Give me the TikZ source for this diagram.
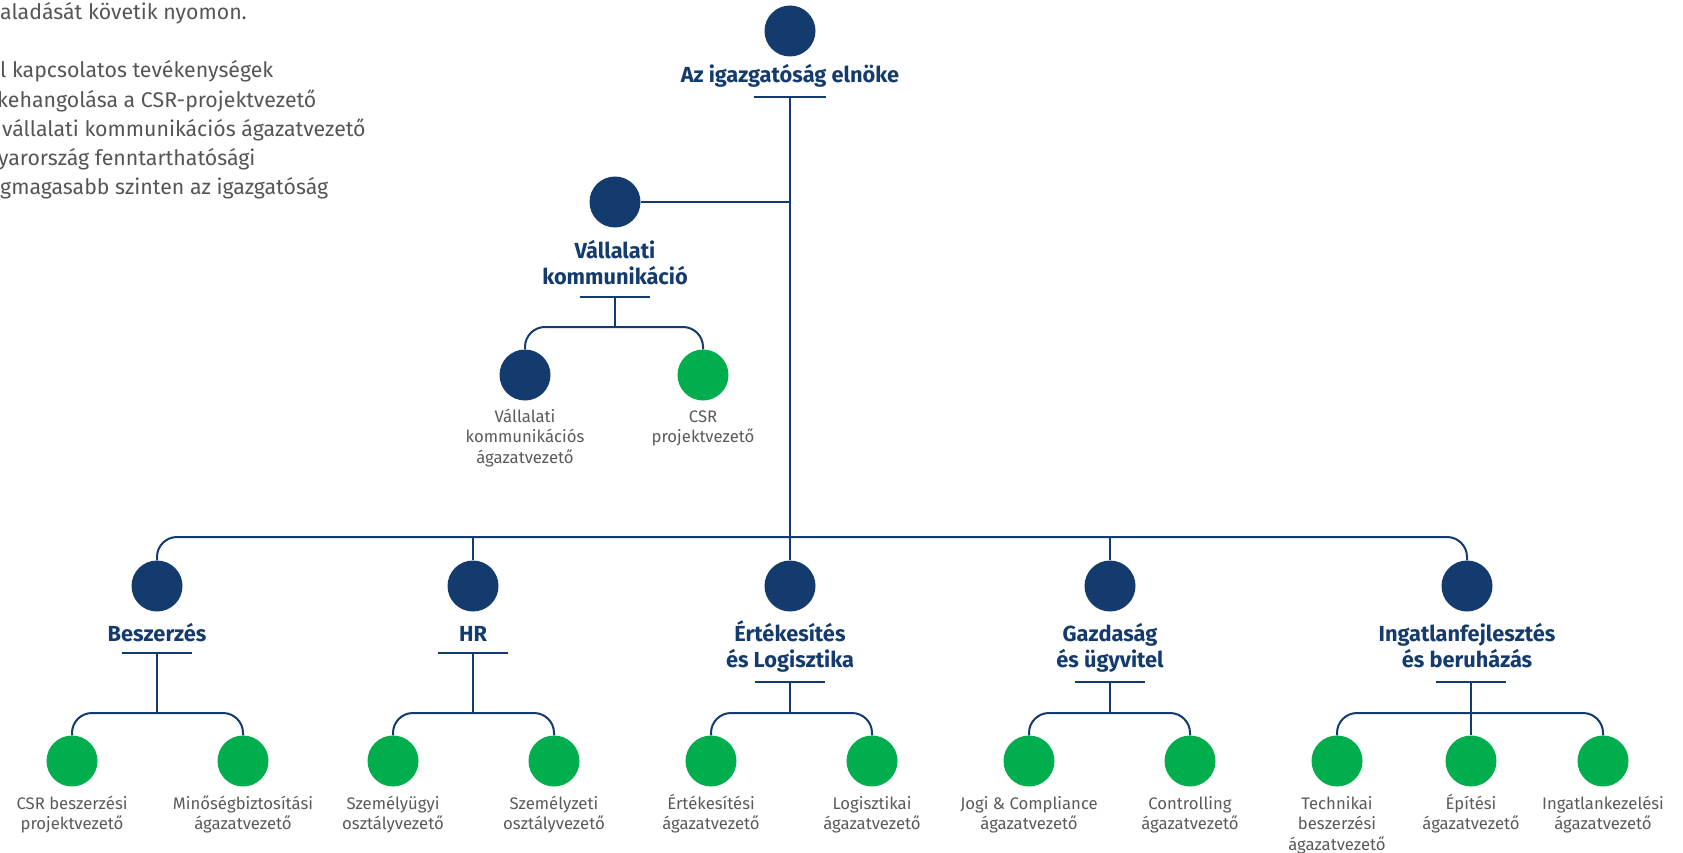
\documentclass[tikz,border=0pt]{standalone}
\usepackage{fontspec}
\setmainfont{Fira Sans}
\definecolor{navy}{HTML}{133B6E}
\definecolor{lgreen}{HTML}{00AE4D}
\definecolor{txtgray}{HTML}{5A5A5A}
\definecolor{intro}{HTML}{555555}
\tikzset{
  boss/.style={circle, fill=navy, minimum size=51pt, inner sep=0pt},
  leaf/.style={circle, fill=lgreen, minimum size=51pt, inner sep=0pt},
  head/.style={font=\fontsize{21.8}{26}\selectfont\bfseries, text=navy, align=center, inner sep=0pt, anchor=base},
  lab/.style={font=\fontsize{16.7}{20.5}\selectfont, text=txtgray, align=center, inner sep=0pt, anchor=base},
  conn/.style={draw=navy, line width=2pt},
  elbow/.style={conn, rounded corners=20pt},
}
\begin{document}
\begin{tikzpicture}[x=1pt,y=-1pt]
\useasboundingbox (0,0) rectangle (1683,853);

% intro text (clipped at left edge); base = last line's baseline
\node[font=\fontsize{21.3}{29.3}\selectfont, text=intro, align=left, inner sep=0pt, anchor=base west] (intro) at (0,195)
 {aladását követik nyomon.\\[29.3pt]
  l kapcsolatos tevékenységek\\
  \hspace*{-3pt}kehangolása a CSR-projektvezető\\
  \hspace*{2pt}vállalati kommunikációs ágazatvezető\\
  \hspace*{-2pt}yarország fenntarthatósági\\
  gmagasabb szinten az igazgatóság};

% top
\node[boss] (ceo) at (790,31) {};
\node[head] (ceoL) at (790,83) {Az igazgatóság elnöke};
\coordinate (ceoB) at (790,97);
\draw[conn] ([xshift=-36pt]ceoB) -- ([xshift=36pt]ceoB);

% corporate communication
\node[boss] (vk) at (615,202) {};
\node[head] (vkL) at (615,284) {Vállalati\\kommunikáció};
\coordinate (vkB) at (615,297);
\coordinate (vkJ) at (615,327);
\draw[conn] ([xshift=-35pt]vkB) -- ([xshift=35pt]vkB);
\draw[conn] (vkB) -- (vkJ);
\node[boss] (vk1) at (525,375) {};
\node[leaf] (vk2) at (703,375) {};
\draw[elbow] (vk1.north) |- (vkJ) -| (vk2.north);
\node[lab] (vk1L) at (525,463) {Vállalati\\kommunikációs\\ágazatvezető};
\node[lab] (vk2L) at (703,442.5) {CSR\\projektvezető};
\draw[conn] (vk.east) -- (vk.east -| ceoB);

% level 1
\coordinate (L1) at (790,537);
\node[boss] (besz) at (157,586) {};
\node[boss] (hr) at (473,586) {};
\node[boss] (ert) at (790,586) {};
\node[boss] (gazd) at (1110,586) {};
\node[boss] (ingat) at (1467,586) {};
\draw[conn] (ceoB) -- (ert.north);
\draw[elbow] (besz.north) |- (L1) -| (ingat.north);
\draw[conn] (hr.north) -- (hr.north |- L1);
\draw[conn] (gazd.north) -- (gazd.north |- L1);

\node[head] (beszL) at (157,641) {Beszerzés};
\node[head] (hrL) at (473,641) {HR};
\node[head] (ertL) at (790,667) {Értékesítés\\és Logisztika};
\node[head] (gazdL) at (1110,667) {Gazdaság\\és ügyvitel};
\node[head] (ingatL) at (1467,667) {Ingatlanfejlesztés\\és beruházás};

% bars and junctions
\coordinate (beszB) at (157,653); \coordinate (beszJ) at (157,713);
\coordinate (hrB) at (473,653);   \coordinate (hrJ) at (473,713);
\coordinate (ertB) at (790,682);  \coordinate (ertJ) at (790,713);
\coordinate (gazdB) at (1110,682); \coordinate (gazdJ) at (1110,713);
\coordinate (ingatB) at (1471,682); \coordinate (ingatJ) at (1471,713);
\foreach \b/\j in {beszB/beszJ, hrB/hrJ, ertB/ertJ, gazdB/gazdJ, ingatB/ingatJ}{
  \draw[conn] ([xshift=-35pt]\b) -- ([xshift=35pt]\b);
  \draw[conn] (\b) -- (\j);
}

% level 2
\node[leaf] (b1) at (72,761) {};
\node[leaf] (b2) at (243,761) {};
\node[leaf] (h1) at (393,761) {};
\node[leaf] (h2) at (554,761) {};
\node[leaf] (e1) at (711,761) {};
\node[leaf] (e2) at (872,761) {};
\node[leaf] (g1) at (1029,761) {};
\node[leaf] (g2) at (1190,761) {};
\node[leaf] (i1) at (1337,761) {};
\node[leaf] (i2) at (1471,761) {};
\node[leaf] (i3) at (1603,761) {};

\draw[elbow] (b1.north) |- (beszJ) -| (b2.north);
\draw[elbow] (h1.north) |- (hrJ) -| (h2.north);
\draw[elbow] (e1.north) |- (ertJ) -| (e2.north);
\draw[elbow] (g1.north) |- (gazdJ) -| (g2.north);
\draw[elbow] (i1.north) |- (ingatJ) -| (i3.north);
\draw[conn] (ingatJ) -- (i2.north);

\node[lab] (b1L) at (72,829.5) {CSR beszerzési\\projektvezető};
\node[lab] (b2L) at (243,829.5) {Minőségbiztosítási\\ágazatvezető};
\node[lab] (h1L) at (393,829.5) {Személyügyi\\osztályvezető};
\node[lab] (h2L) at (554,829.5) {Személyzeti\\osztályvezető};
\node[lab] (e1L) at (711,829.5) {Értékesítési\\ágazatvezető};
\node[lab] (e2L) at (872,829.5) {Logisztikai\\ágazatvezető};
\node[lab] (g1L) at (1029,829.5) {Jogi \& Compliance\\ágazatvezető};
\node[lab] (g2L) at (1190,829.5) {Controlling\\ágazatvezető};
\node[lab] (i1L) at (1337,850) {Technikai\\beszerzési\\ágazatvezető};
\node[lab] (i2L) at (1471,829.5) {Építési\\ágazatvezető};
\node[lab] (i3L) at (1603,829.5) {Ingatlankezelési\\ágazatvezető};
\end{tikzpicture}
\end{document}
